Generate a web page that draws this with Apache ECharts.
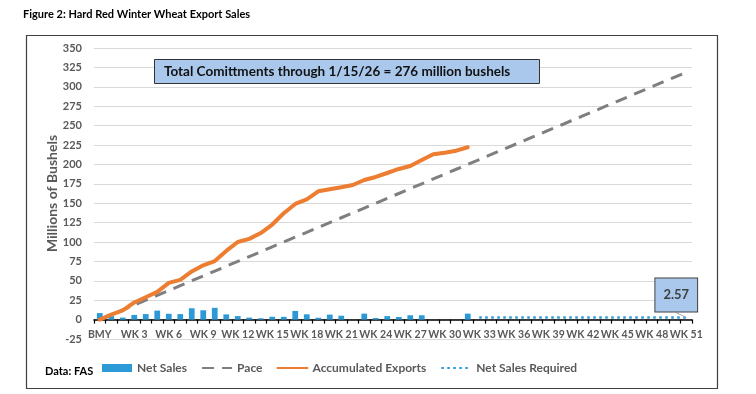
<!DOCTYPE html>
<html>
<head>
<meta charset="utf-8">
<script src="https://cdn.jsdelivr.net/npm/echarts@6/dist/echarts.min.js"></script>
<style>
html,body{margin:0;padding:0;background:#fff;}
#chart{width:756px;height:394px;}
</style>
</head>
<body>
<div id="chart"></div>
<script>
var categories = ['BMY','WK 1','WK 2','WK 3','WK 4','WK 5','WK 6','WK 7','WK 8','WK 9','WK 10',
  'WK 11','WK 12','WK 13','WK 14','WK 15','WK 16','WK 17','WK 18','WK 19','WK 20',
  'WK 21','WK 22','WK 23','WK 24','WK 25','WK 26','WK 27','WK 28','WK 29','WK 30',
  'WK 31','WK 32','WK 33','WK 34','WK 35','WK 36','WK 37','WK 38','WK 39','WK 40',
  'WK 41','WK 42','WK 43','WK 44','WK 45','WK 46','WK 47','WK 48','WK 49','WK 50','WK 51'];

var netSales = [8.4, 4.5, 2.6, 6.0, 7.1, 11.6, 7.5, 7.1, 14.6, 12.0, 15.2,
  6.7, 4.5, 2.6, 1.7, 3.7, 3.6, 11.2, 6.8, 2.4, 6.4,
  5.0, null, 7.7, 2.0, 4.5, 3.4, 5.6, 5.6, null, null,
  null, 7.7, null, null, null, null, null, null, null, null,
  null, null, null, null, null, null, null, null, null, null, null];

var pace = [0, 6.25, 12.5, 18.75, 25, 31.25, 37.5, 43.75, 50, 56.25, 62.5,
  68.75, 75, 81.25, 87.5, 93.75, 100, 106.25, 112.5, 118.75, 125,
  131.25, 137.5, 143.75, 150, 156.25, 162.5, 168.75, 175, 181.25, 187.5,
  193.75, 200, 206.25, 212.5, 218.75, 225, 231.25, 237.5, 243.75, 250,
  256.25, 262.5, 268.75, 275, 281.25, 287.5, 293.75, 300, 306.25, 312.5, 318.75];

var accumulated = [0, 6.4, 12, 22, 28.8, 35.7, 47.3, 51.2, 62, 70, 75.5,
  88.5, 100, 104, 111.5, 122.5, 137, 149, 155, 165.3, 168,
  170.5, 173.4, 179.9, 183.8, 188.9, 194.1, 198, 205.7, 213, 215.1,
  217.7, 222.1];

var netSalesRequired = [null, null, null, null, null, null, null, null, null, null, null,
  null, null, null, null, null, null, null, null, null, null,
  null, null, null, null, null, null, null, null, null, null,
  null, null, 2.57, 2.57, 2.57, 2.57, 2.57, 2.57, 2.57, 2.57,
  2.57, 2.57, 2.57, 2.57, 2.57, 2.57, 2.57, 2.57, 2.57, 2.57, 2.57];

var yMin = -25, yMax = 350, yStep = 25;
var FONT = 'Lato, "Noto Sans", sans-serif';
var GRAY = '#595959';

var gridTop = 48, gridBottom = 55, H = 394;
var plotH = H - gridTop - gridBottom;
var zeroOffset = -plotH * (0 - yMin) / (yMax - yMin);

var reqData = netSalesRequired.map(function (v, i) {
  if (i === netSalesRequired.length - 1) {
    return {
      value: v,
      label: {
        show: true,
        position: 'top',
        distance: 6,
        formatter: function (p) { return Number(p.value).toFixed(2); },
        backgroundColor: '#A9C8EC',
        borderColor: '#404040',
        borderWidth: 1,
        padding: [10, 8, 10, 8],
        color: '#404040',
        fontFamily: FONT,
        fontWeight: 'bold',
        fontSize: 13
      },
      labelLine: { show: true, lineStyle: { color: '#A6A6A6', width: 1 } }
    };
  }
  return v;
});

var hideSym = { opacity: 0 };

var chart = echarts.init(document.getElementById('chart'), null, { renderer: 'canvas' });
chart.setOption({
  animation: false,
  backgroundColor: '#ffffff',
  title: [
    {
      text: 'Figure 2: Hard Red Winter Wheat Export Sales',
      left: 23, top: 9, padding: 0,
      textStyle: { fontFamily: FONT, fontWeight: 'bold', fontSize: 11, color: '#000' }
    },
    {
      text: 'Total Comittments through 1/15/26 = 276 million bushels',
      left: 154, top: 59,
      padding: [5, 29, 5, 10],
      backgroundColor: '#A9C8EC',
      borderColor: '#333333',
      borderWidth: 1,
      textStyle: { fontFamily: FONT, fontWeight: 'bold', fontSize: 13.5, lineHeight: 15, color: '#111' }
    },
    {
      text: 'Data: FAS',
      left: 45, top: 366, padding: 0,
      textStyle: { fontFamily: FONT, fontWeight: 'bold', fontSize: 11, color: '#000' }
    }
  ],
  graphic: [
    {
      type: 'rect', left: 24, top: 33, z: -1, silent: true,
      shape: { width: 691, height: 353 },
      style: { fill: 'none', stroke: '#404040', lineWidth: 1.2 }
    }
  ],
  legend: {
    left: 97, top: 357,
    itemWidth: 30, itemHeight: 8, itemGap: 14,
    textStyle: { fontFamily: FONT, fontWeight: 'bold', fontSize: 12, color: GRAY },
    data: [
      { name: 'Net Sales', icon: 'rect' },
      { name: 'Pace', itemStyle: hideSym },
      { name: 'Accumulated Exports', itemStyle: hideSym },
      { name: 'Net Sales Required', itemStyle: hideSym }
    ]
  },
  grid: { left: 94, right: 64, top: gridTop, bottom: gridBottom, containLabel: false },
  xAxis: {
    type: 'category',
    data: categories,
    boundaryGap: true,
    offset: zeroOffset,
    axisLine: { onZero: false, lineStyle: { color: '#000', width: 1.5 } },
    axisTick: { show: true, interval: 0, length: 4, lineStyle: { color: '#000', width: 1.2 } },
    axisLabel: { interval: 2, margin: 10, fontFamily: FONT, fontWeight: 'bold', fontSize: 10.5, color: GRAY },
    splitLine: { show: false }
  },
  yAxis: {
    type: 'value',
    min: yMin, max: yMax, interval: yStep,
    name: 'Millions of Bushels',
    nameLocation: 'middle',
    nameGap: 35,
    nameMoveOverlap: false,
    nameTextStyle: { fontFamily: FONT, fontWeight: 'bold', fontSize: 14, color: GRAY },
    axisLine: { show: false },
    axisTick: { show: false },
    axisLabel: { margin: 12, fontFamily: FONT, fontWeight: 'bold', fontSize: 11, color: GRAY },
    splitLine: { lineStyle: { color: '#D9D9D9', width: 1 } }
  },
  series: [
    {
      name: 'Net Sales', type: 'bar', data: netSales,
      barWidth: '50%',
      itemStyle: { color: '#2B9AD6' },
      z: 2
    },
    {
      name: 'Pace', type: 'line', data: pace,
      symbol: 'none',
      lineStyle: { color: '#7F7F7F', width: 3, type: [12, 8], cap: 'butt' },
      itemStyle: { color: '#7F7F7F' },
      z: 3
    },
    {
      name: 'Accumulated Exports', type: 'line', data: accumulated,
      symbol: 'none',
      lineStyle: { color: '#ED7D31', width: 4, cap: 'round', join: 'round' },
      itemStyle: { color: '#ED7D31' },
      z: 4
    },
    {
      name: 'Net Sales Required', type: 'line', data: reqData,
      symbol: 'circle',
      symbolSize: 0.01,
      showSymbol: true,
      connectNulls: false,
      lineStyle: { color: '#2B9AD6', width: 2.5, type: [2.5, 3.5], cap: 'butt' },
      itemStyle: { color: '#2B9AD6' },
      labelLayout: { dx: -10, dy: 0 },
      z: 5
    }
  ]
});
</script>
</body>
</html>
